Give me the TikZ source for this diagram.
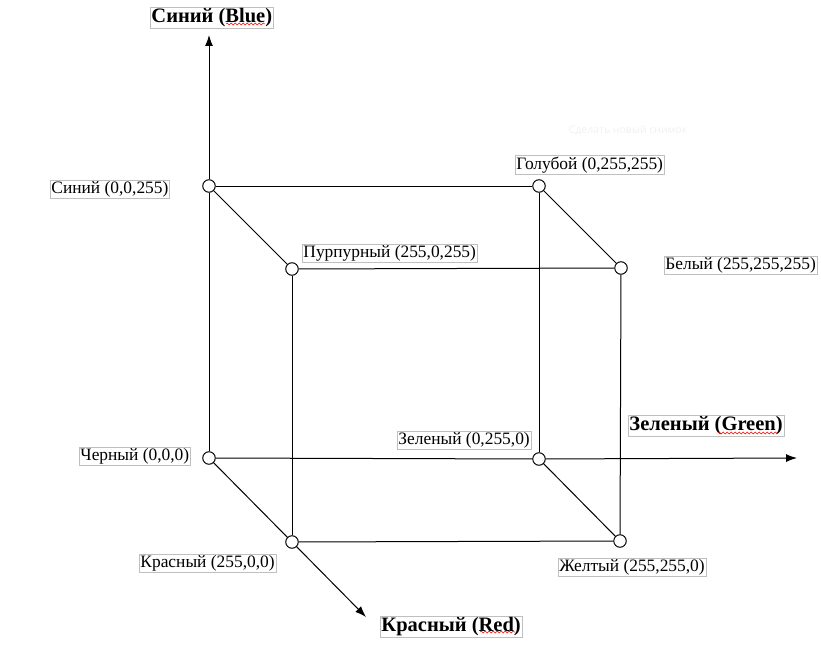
\documentclass[tikz,border=0pt]{standalone}
\usepackage{fontspec}
\setmainfont{Liberation Serif}
\newfontfamily\uisans{Open Sans}
\usetikzlibrary{arrows.meta,decorations.pathmorphing}
\begin{document}
\begin{tikzpicture}[x=1pt,y=-1pt,
  vtx/.style={circle,draw,fill=white,minimum size=12.5pt,inner sep=0pt,line width=1pt},
  edge/.style={line width=1pt},
  axis/.style={line width=1pt,-{Latex[length=11pt,width=8pt]}},
  lbl/.style={draw=gray!50,line width=0.5pt,inner sep=1.2pt,anchor=west,font=\fontsize{17.4}{20}\selectfont},
  axlbl/.style={lbl,font=\fontsize{20.5}{23}\selectfont\bfseries},
  wavy/.style={draw=red,line width=0.5pt,decorate,decoration={snake,amplitude=1pt,segment length=4pt}}]
\useasboundingbox (0,0) rectangle (821,647);
% vertices
\node[vtx] (K) at (209,458) {};
\node[vtx] (B) at (209,186) {};
\node[vtx] (C) at (539,186) {};
\node[vtx] (G) at (539,459) {};
\node[vtx] (M) at (292,269) {};
\node[vtx] (W) at (621,268) {};
\node[vtx] (R) at (292,542) {};
\node[vtx] (Y) at (620,541) {};
\coordinate (Btip) at (209,35);
\coordinate (Gtip) at (797,458);
\coordinate (Rtip) at (366,617);
% axes
\draw[edge] (K) -- (B);
\draw[axis] (B) -- (Btip);
\draw[edge] (K) -- (G);
\draw[axis] (G) -- (Gtip);
\draw[edge] (K) -- (R);
\draw[axis] (R) -- (Rtip);
% cube edges
\draw[edge] (B) -- (C);
\draw[edge] (B) -- (M);
\draw[edge] (M) -- (W);
\draw[edge] (C) -- (W);
\draw[edge] (C) -- (G);
\draw[edge] (W) -- (Y);
\draw[edge] (M) -- (R);
\draw[edge] (R) -- (Y);
\draw[edge] (G) -- (Y);
% axis labels
\node[axlbl] (lB) at (150,18) {Синий (Blue)};
\node[axlbl] (lG) at (628,426) {Зеленый (Green)};
\node[axlbl] (lR) at (380,627) {Красный (Red)};
\draw[wavy] (226,24) -- (265,24);
\draw[wavy] (718,433) -- (777,433);
\draw[wavy] (480,632) -- (515,632);
% vertex labels
\node[lbl] (tB) at (50,189) {Синий (0,0,255)};
\node[lbl] (tC) at (515,165) {Голубой (0,255,255)};
\node[lbl] (tM) at (302,253) {Пурпурный (255,0,255)};
\node[lbl] (tW) at (664,265) {Белый (255,255,255)};
\node[lbl] (tG) at (397,440) {Зеленый (0,255,0)};
\node[lbl] (tK) at (79,456) {Черный (0,0,0)};
\node[lbl] (tR) at (139,563) {Красный (255,0,0)};
\node[lbl] (tY) at (558,567) {Желтый (255,255,0)};
% faint overlay text
\node[font=\uisans\fontsize{10.5}{12}\selectfont,text=gray!12] (snap) at (628,131) {Сделать новый снимок};
\end{tikzpicture}
\end{document}
